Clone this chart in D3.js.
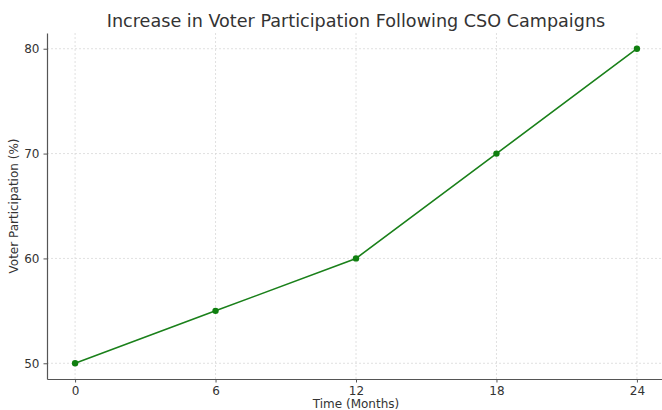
<!DOCTYPE html>
<html><head><meta charset="utf-8">
<script src="https://cdn.jsdelivr.net/npm/d3@7"></script>
<style>body{margin:0;background:#fff;}svg{display:block;}</style>
</head><body>
<script>
const months = [0, 6, 12, 18, 24];
const participation = [50, 55, 60, 70, 80];
const xTicks = [0, 6, 12, 18, 24];
const yTicks = [50, 60, 70, 80];
const title = "Increase in Voter Participation Following CSO Campaigns";
const xLabel = "Time (Months)";
const yLabel = "Voter Participation (%)";

const W = 662, H = 410;
const m = {left: 47, right: -3, top: 33, bottom: 31};
const svg = d3.select("body").append("svg").attr("width", W).attr("height", H)
  .style("font-family", "'DejaVu Sans', sans-serif");
const x = d3.scaleLinear().domain([-1.2, 25.2]).range([m.left, W - m.right]);
const y = d3.scaleLinear().domain([48.5, 81.5]).range([H - m.bottom, m.top]);

const g = svg.append("g");
g.selectAll(".vg").data(xTicks).enter().append("line")
  .attr("x1", d => x(d)).attr("x2", d => x(d)).attr("y1", y(48.5)).attr("y2", y(81.5))
  .attr("stroke", "#d8d8d8").attr("stroke-width", 0.8).attr("stroke-dasharray", "2,2");
g.selectAll(".hg").data(yTicks).enter().append("line")
  .attr("y1", d => y(d)).attr("y2", d => y(d)).attr("x1", x(-1.2)).attr("x2", x(25.2))
  .attr("stroke", "#d8d8d8").attr("stroke-width", 0.8).attr("stroke-dasharray", "2,2");

const xAxis = svg.append("g").attr("transform", `translate(0,${H - m.bottom})`)
  .call(d3.axisBottom(x).tickValues(xTicks).tickSizeInner(3.5).tickSizeOuter(0).tickPadding(4));
const yAxis = svg.append("g").attr("transform", `translate(${m.left},0)`)
  .call(d3.axisLeft(y).tickValues(yTicks).tickSizeInner(3.5).tickSizeOuter(0).tickPadding(4));
[xAxis, yAxis].forEach(a => {
  a.select(".domain").attr("stroke", "#555").attr("stroke-width", 1.2);
  a.selectAll(".tick line").attr("stroke", "#555");
  a.selectAll("text").attr("fill", "#333").style("font-size", "12px").style("font-family", "'DejaVu Sans', sans-serif");
});

const line = d3.line().x((d, i) => x(months[i])).y(d => y(d));
svg.append("path").datum(participation).attr("d", line)
  .attr("fill", "none").attr("stroke", "#1a801a").attr("stroke-width", 1.6);
svg.selectAll(".pt").data(participation).enter().append("circle")
  .attr("cx", (d, i) => x(months[i])).attr("cy", d => y(d)).attr("r", 3.2).attr("fill", "#0f7f0f");

svg.append("text").attr("x", 356).attr("y", 27).attr("text-anchor", "middle")
  .attr("fill", "#333").style("font-size", "17.6px").text(title);
svg.append("text").attr("x", x(12)).attr("y", 408).attr("text-anchor", "middle")
  .attr("fill", "#333").style("font-size", "12px").text(xLabel);
svg.append("text").attr("transform", `translate(18,${y(65)}) rotate(-90)`).attr("text-anchor", "middle")
  .attr("fill", "#333").style("font-size", "12px").text(yLabel);
</script>
</body></html>
